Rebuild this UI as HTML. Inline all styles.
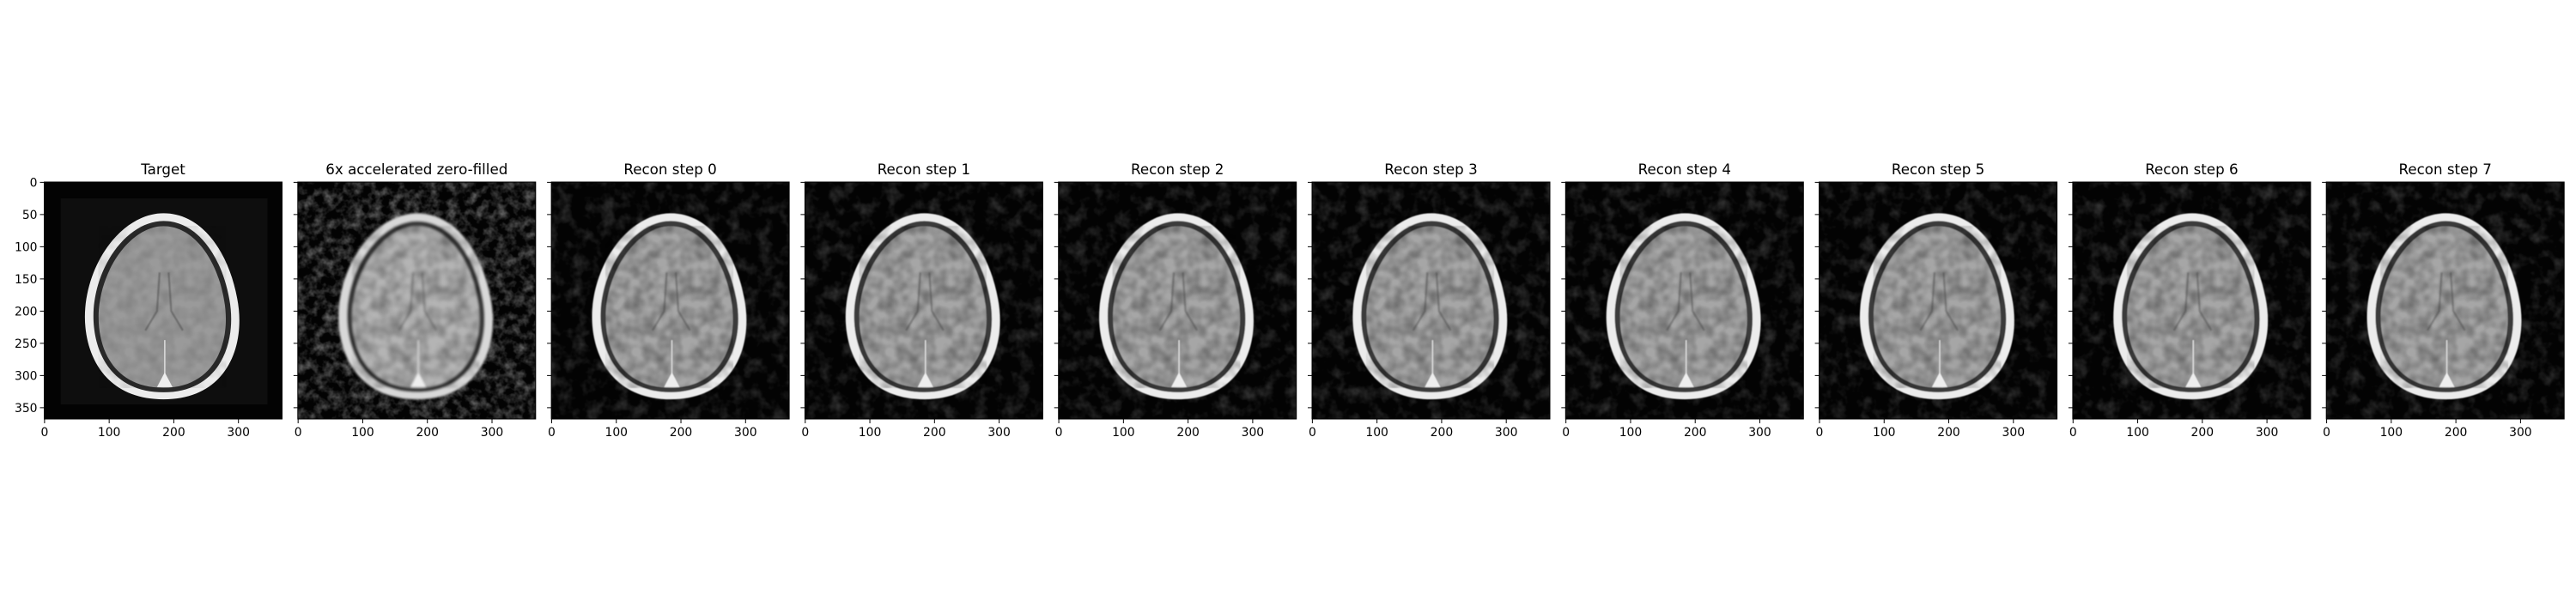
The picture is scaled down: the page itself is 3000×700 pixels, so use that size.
<!DOCTYPE html>
<html><head><meta charset="utf-8">
<style>
html,body{margin:0;padding:0;background:#fff;}
svg{display:block;}
text{font-family:"DejaVu Sans","Liberation Sans",sans-serif;fill:#000;}
</style></head>
<body>
<svg id="fig" width="3000" height="700" viewBox="0 0 3000 700" xmlns="http://www.w3.org/2000/svg">
<defs>
<filter id="noiseF" x="0" y="0" width="100%" height="100%">
<feTurbulence type="fractalNoise" baseFrequency="0.06" numOctaves="3" seed="3"/>
<feColorMatrix type="matrix" values="0 0 0 0 1  0 0 0 0 1  0 0 0 0 1  1 0 0 0 -0.45"/>
</filter>
<filter id="noiseZ" x="0" y="0" width="100%" height="100%">
<feTurbulence type="fractalNoise" baseFrequency="0.09" numOctaves="3" seed="7"/>
<feColorMatrix type="matrix" values="0 0 0 0 1  0 0 0 0 1  0 0 0 0 1  1.4 0 0 0 -0.55"/>
</filter>
<filter id="tex" x="0" y="0" width="100%" height="100%">
<feTurbulence type="fractalNoise" baseFrequency="0.05" numOctaves="2" seed="11"/>
<feColorMatrix type="matrix" values="0 0 0 0 0  0 0 0 0 0  0 0 0 0 0  1 0 0 0 -0.3"/>
</filter>
<filter id="blur2"><feGaussianBlur stdDeviation="1.6"/></filter>
<filter id="blur1"><feGaussianBlur stdDeviation="0.8"/></filter>
</defs>
<g id="panels"></g>
</svg>
<script>
const titles = ["Target","6x accelerated zero-filled","Recon step 0","Recon step 1","Recon step 2","Recon step 3","Recon step 4","Recon step 5","Recon step 6","Recon step 7"];
const xTicks = [0,100,200,300];
const yTicks = [0,50,100,150,200,250,300,350];
const imgSize = [368,368];

const NS="http://www.w3.org/2000/svg";
const panelLeft0=51.5, pitch=295.3, pw=277, ph=276, panelTop=212;
function mk(tag,attrs,parent){const e=document.createElementNS(NS,tag);for(const k in attrs)e.setAttribute(k,attrs[k]);if(parent)parent.appendChild(e);return e;}
const root=document.getElementById('panels');
const headPath="M184,48 C245,48 285,110 298,180 C312,250 285,337 184,337 C85,337 58,255 63,195 C70,115 125,48 184,48 Z";
const skullPath="M184,60 C238,60 275,118 286,182 C298,248 272,326 184,326 C98,326 72,255 76,196 C82,122 132,60 184,60 Z";
const brainPath="M184,68 C232,68 268,122 278,184 C289,246 265,319 184,319 C104,319 80,254 84,197 C90,128 137,68 184,68 Z";

titles.forEach((t,i)=>{
  const L=panelLeft0+i*pitch;
  const sx=pw/imgSize[0], sy=ph/imgSize[1];
  const xs=v=>L+(v+0.5)*sx, ys=v=>panelTop+(v+0.5)*sy;
  const g=mk('g',{},root);
  
  
  const cp=mk('clipPath',{id:'cp'+i},g);
  mk('rect',{x:L,y:panelTop,width:pw,height:ph},cp);
  const im=mk('g',{'clip-path':'url(#cp'+i+')'},g);
  
  
  mk('rect',{x:L,y:panelTop,width:pw,height:ph,fill:'#030303'},im);
  if(i===0){
    mk('rect',{x:xs(25),y:ys(25),width:320*sx,height:320*sy,fill:'#0e0e0e'},im);
  } else {
    mk('rect',{x:L,y:panelTop,width:pw,height:ph,fill:'#fff',filter:i===1?'url(#noiseZ)':'url(#noiseF)',opacity:i===1?0.55:0.4},im);
  }
  const hattrs={transform:`translate(${L+0.5*sx},${panelTop+0.5*sy}) scale(${sx},${sy})`};
  if(i===1) hattrs.filter='url(#blur2)'; else if(i>1) hattrs.filter='url(#blur1)';
  const h=mk('g',hattrs,im);
  
  
  mk('path',{d:headPath,fill:i===1?'#d8d8d8':'#ececec'},h);
  mk('path',{d:skullPath,fill:i===0?'#2a2a2a':'#3a3a3a'},h);
  mk('path',{d:brainPath,fill:i===0?'#9a9a9a':(i===1?'#b4b4b4':'#a6a6a6')},h);
  mk('path',{d:brainPath,fill:'#fff',filter:'url(#tex)',opacity:i===0?0.25:0.6},h);
  mk('path',{d:"M178,140 L174,200 L156,230 M192,140 L196,200 L214,230",stroke:'#444',"stroke-width":3,fill:'none',opacity:0.45,filter:'url(#blur1)'},h);
  mk('path',{d:"M186,245 L186,300",stroke:'#ddd',"stroke-width":2,fill:'none'},h);
  mk('path',{d:"M174,318 L186,295 L198,318 Z",fill:'#eee'},h);
  const fr=mk('rect',{x:L,y:panelTop,width:pw,height:ph,fill:'none',stroke:'#000','stroke-width':1},g);
  
  
  const tt=mk('text',{x:L+pw/2,y:panelTop-9,'text-anchor':'middle','font-size':16.7},g);
  tt.textContent=t;
  
  
  xTicks.forEach(v=>{
    const x=xs(v);
    mk('line',{x1:x,y1:panelTop+ph,x2:x,y2:panelTop+ph+5,stroke:'#000','stroke-width':1},g);
    const tl=mk('text',{x:x,y:panelTop+ph+20,'text-anchor':'middle','font-size':13.9},g);
    tl.textContent=v;
    
    
  });
  yTicks.forEach(v=>{
    const y=ys(v);
    mk('line',{x1:L,y1:y,x2:L-5,y2:y,stroke:'#000','stroke-width':1},g);
    if(i===0){
      const tl=mk('text',{x:L-8,y:y+5,'text-anchor':'end','font-size':13.9},g);
      tl.textContent=v;
      
      
    }
  });
});
</script>
</body></html>
